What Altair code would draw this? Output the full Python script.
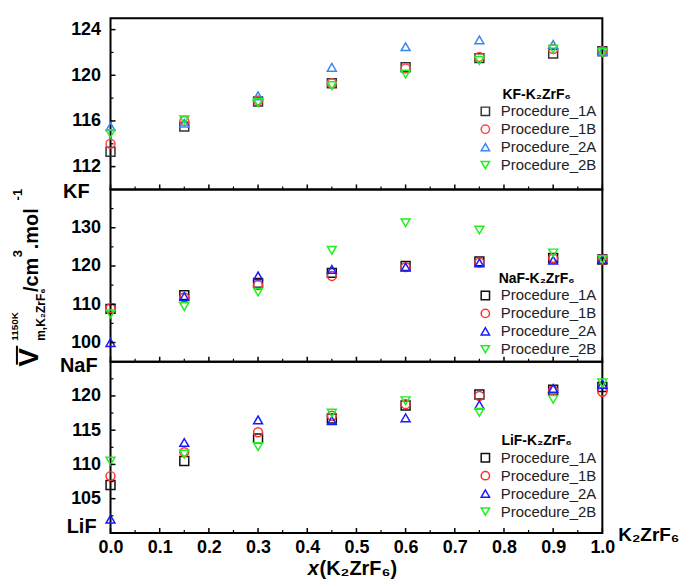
import altair as alt
import pandas as pd

# ---------------- data ----------------
x_frac = [0.0, 0.15, 0.30, 0.45, 0.60, 0.75, 0.90, 1.0]
procedures = ["Procedure_1A", "Procedure_1B", "Procedure_2A", "Procedure_2B"]
shapes = ["square", "circle", "triangle-up", "triangle-down"]

kf_1a = [113.3, 115.5, 117.7, 119.3, 120.7, 121.5, 121.9, 122.1]
kf_1b = [114.0, 116.0, 117.8, 119.3, 120.6, 121.6, 122.3, 122.1]
kf_2a = [115.5, 115.8, 118.2, 120.7, 122.5, 123.1, 122.7, 122.1]
kf_2b = [114.9, 116.1, 117.6, 119.1, 120.1, 121.3, 122.3, 122.0]

naf_1a = [108.8, 112.4, 115.6, 118.2, 120.0, 121.2, 122.1, 121.7]
naf_1b = [109.0, 111.8, 115.0, 117.4, 119.7, 120.9, 122.0, 121.7]
naf_2a = [100.0, 112.0, 117.4, 119.1, 119.7, 120.8, 121.5, 121.7]
naf_2b = [107.5, 109.4, 113.2, 124.1, 131.3, 129.4, 123.4, 121.7]

lif_1a = [107.0, 110.5, 113.8, 116.7, 118.6, 120.2, 120.9, 121.3]
lif_1b = [108.3, 111.8, 114.7, 117.1, 118.8, 120.0, 120.8, 120.6]
lif_2a = [102.0, 113.2, 116.5, 116.4, 116.8, 118.7, 121.1, 121.7]
lif_2b = [110.5, 111.5, 112.6, 117.5, 119.3, 117.6, 119.5, 121.9]

systems = ["KF-K₂ZrF₆", "NaF-K₂ZrF₆", "LiF-K₂ZrF₆"]
side_labels = ["KF", "NaF", "LiF"]
end_label = "K₂ZrF₆"
x_title_parts = ["x", "(K₂ZrF₆)"]
y_title_parts = ["V", "1150K", "m,K₂ZrF₆", "/cm", "3", ".mol", "-1"]

x_major = [0.0, 0.1, 0.2, 0.3, 0.4, 0.5, 0.6, 0.7, 0.8, 0.9, 1.0]
x_minor = [0.05, 0.15, 0.25, 0.35, 0.45, 0.55, 0.65, 0.75, 0.85, 0.95]

kf_ticks = [112, 116, 120, 124]
kf_minor = [114, 118, 122]
naf_ticks = [100, 110, 120, 130]
naf_minor = [105, 115, 125, 135]
lif_ticks = [105, 110, 115, 120]
lif_minor = [102.5, 107.5, 112.5, 117.5, 122.5]

FONT = "Liberation Sans"
W = 494


def long_df(series):
    rows = []
    for proc, vals in zip(procedures, series):
        for xv, v in zip(x_frac, vals):
            rows.append({"x": xv, "v": v, "proc": proc})
    return pd.DataFrame(rows)


def one(label):
    return pd.DataFrame({"t": [label]})


def panel(series, ydom, yvals, yminor, H, title, legY, colors, bottom):
    xs = alt.Scale(domain=[0, 1], nice=False, zero=False)
    ys = alt.Scale(domain=ydom, nice=False, zero=False)
    leg = alt.Legend(title=title, orient="none", legendX=369, legendY=legY)
    yaxis = alt.Axis(values=yvals, title=None, labelPadding=10)
    if bottom:
        xaxis = alt.Axis(values=x_major, format=".1f", labelFlush=False,
                         labelPadding=6, title=None)
    else:
        xaxis = None
    pts = alt.Chart(long_df(series)).mark_point(
        filled=False, size=80, strokeWidth=1.5, opacity=1
    ).encode(
        x=alt.X("x:Q", scale=xs, axis=xaxis),
        y=alt.Y("v:Q", scale=ys, axis=yaxis),
        color=alt.Color("proc:N", scale=alt.Scale(domain=procedures, range=colors), legend=leg),
        shape=alt.Shape("proc:N", scale=alt.Scale(domain=procedures, range=shapes), legend=leg),
    )
    xt1 = alt.Chart(pd.DataFrame({"x": x_major})).mark_rule(color="black", strokeWidth=1.5).encode(
        x=alt.X("x:Q", scale=xs, axis=xaxis), y=alt.value(H), y2=alt.value(H - 5))
    xt2 = alt.Chart(pd.DataFrame({"x": x_minor})).mark_rule(color="black", strokeWidth=1.2).encode(
        x=alt.X("x:Q", scale=xs, axis=xaxis), y=alt.value(H), y2=alt.value(H - 3))
    yt1 = alt.Chart(pd.DataFrame({"v": yvals})).mark_rule(color="black", strokeWidth=1.5).encode(
        y=alt.Y("v:Q", scale=ys, axis=yaxis), x=alt.value(0), x2=alt.value(5))
    yt2 = alt.Chart(pd.DataFrame({"v": yminor})).mark_rule(color="black", strokeWidth=1.2).encode(
        y=alt.Y("v:Q", scale=ys, axis=yaxis), x=alt.value(0), x2=alt.value(3))
    return [pts, xt1, xt2, yt1, yt2]


def side(label, xr, yr):
    return alt.Chart(one(label)).mark_text(
        font=FONT, fontWeight="bold", fontSize=20, align="right", baseline="middle", color="black"
    ).encode(text="t:N", x=alt.value(xr), y=alt.value(yr))


def rot(label, size, xb, ystart):
    return alt.Chart(one(label)).mark_text(
        font=FONT, fontWeight="bold", fontSize=size, angle=270, align="left",
        baseline="alphabetic", color="black"
    ).encode(text="t:N", x=alt.value(xb), y=alt.value(ystart))


H1, H2, H3 = 172, 173, 172

# ---- top panel (KF)
top_layers = panel([kf_1a, kf_1b, kf_2a, kf_2b], [110, 125], kf_ticks, kf_minor, H1,
                   systems[0], 70, ["#333333", "#ff4545", "#3a86f0", "#22ee22"], False)
guard = alt.Chart(one("g")).mark_rule(opacity=0, strokeWidth=1).encode(
    x=alt.value(-109.5), y=alt.value(-15.2), y2=alt.value(-14))
top = alt.layer(*top_layers, side(side_labels[0], -21, 175), guard).properties(width=W, height=H1)

# ---- middle panel (NaF)
mid_layers = panel([naf_1a, naf_1b, naf_2a, naf_2b], [95, 140], naf_ticks, naf_minor, H2,
                   systems[1], 83, ["#111111", "#ff3030", "#1a1aff", "#22ee22"], False)
oy = 188
ylab = [
    rot(y_title_parts[0], 28, 37 - 110, 366 - oy),
    rot(y_title_parts[1], 10, 17 - 110, 340 - oy),
    rot(y_title_parts[2], 12, 44 - 110, 340 - oy),
    rot(y_title_parts[3], 20, 37 - 110, 291 - oy),
    rot(y_title_parts[4], 13, 21 - 110, 256 - oy),
    rot(y_title_parts[5], 20, 37 - 110, 248 - oy),
    rot(y_title_parts[6], 13, 21 - 110, 199 - oy),
]
overline = alt.Chart(one("o")).mark_rule(color="black", strokeWidth=2).encode(
    x=alt.value(16 - 110), y=alt.value(345 - oy), y2=alt.value(364 - oy))
mid = alt.layer(*mid_layers, side(side_labels[1], -13, 177), *ylab, overline).properties(width=W, height=H2)

# ---- bottom panel (LiF)
bot_layers = panel([lif_1a, lif_1b, lif_2a, lif_2b], [100, 125], lif_ticks, lif_minor, H3,
                   systems[2], 73, ["#111111", "#ff3030", "#1a1aff", "#22ee22"], True)
ob = 361
xt_x = alt.Chart(one(x_title_parts[0])).mark_text(
    font=FONT, fontWeight="bold", fontStyle="italic", fontSize=20, align="left",
    baseline="alphabetic", color="black").encode(text="t:N", x=alt.value(308 - 110), y=alt.value(575 - ob))
xt_rest = alt.Chart(one(x_title_parts[1])).mark_text(
    font=FONT, fontWeight="bold", fontSize=20, align="left",
    baseline="alphabetic", color="black").encode(text="t:N", x=alt.value(320 - 110), y=alt.value(575 - ob))
endlab = alt.Chart(one(end_label)).mark_text(
    font=FONT, fontWeight="bold", fontSize=19, align="left",
    baseline="middle", color="black").encode(text="t:N", x=alt.value(620 - 110), y=alt.value(535 - ob))
bot = alt.layer(*bot_layers, side(side_labels[2], -14, 166), xt_x, xt_rest, endlab).properties(width=W, height=H3)

chart = alt.VConcatChart(vconcat=[top, mid, bot], spacing=0, bounds="flush").resolve_scale(
    color="independent", shape="independent", y="independent"
).resolve_legend(color="independent", shape="independent").properties(
    padding={"left": 0, "top": 0, "right": 0, "bottom": 0}
).configure_view(
    stroke="black", strokeWidth=2
).configure_axis(
    labelFont=FONT, labelFontWeight="bold", labelFontSize=18, labelColor="black",
    ticks=False, domain=False, grid=False
).configure_legend(
    labelFont=FONT, labelFontSize=15, labelColor="#222222",
    titleFont=FONT, titleFontSize=14, titleFontWeight="bold", titleColor="black",
    symbolSize=70, symbolStrokeWidth=1.5, rowPadding=2, titlePadding=2,
    labelOffset=8, padding=0, titleAnchor="middle"
)

chart.save("out.html", embed_options={"renderer": "svg", "actions": False})
